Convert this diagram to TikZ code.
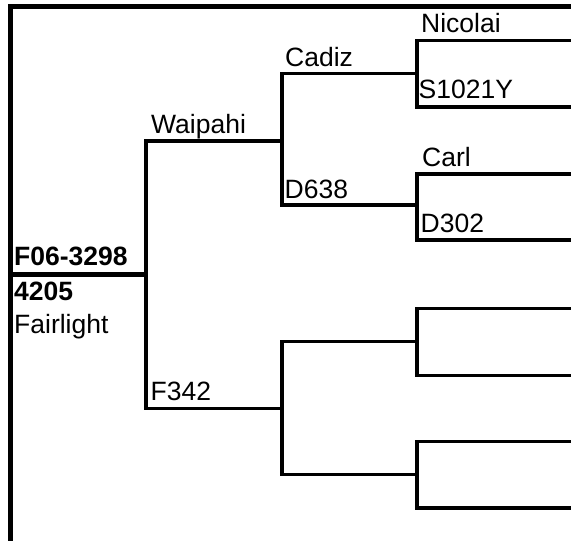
\documentclass[tikz,border=0pt]{standalone}
\usepackage{fontspec}
\setmainfont{Liberation Sans}
\begin{document}
\begin{tikzpicture}[x=1pt,y=-1pt,
  frame/.style={line width=5pt},
  mainline/.style={line width=5pt},
  branch/.style={line width=3.4pt},
  lbl/.style={anchor=base west,inner sep=0pt,font=\fontsize{26.5}{30}\selectfont},
  blbl/.style={lbl,font=\fontsize{26.5}{30}\selectfont\bfseries}]
\useasboundingbox (0,0) rectangle (571,541);
% frame corners
\coordinate (tl) at (10.5,6.5);
\coordinate (tr) at (571,6.5);
\coordinate (bl) at (10.5,541);
% generation 1
\coordinate (root) at (10.5,274);
\coordinate (rj) at (146,274);
% generation 2
\coordinate (s) at (146,141);  \coordinate (sj) at (282,141);
\coordinate (d) at (146,408.5);\coordinate (dj) at (282,408.5);
% generation 3
\coordinate (ss) at (282,73.5);  \coordinate (ssj) at (417,73.5);
\coordinate (sd) at (282,205);   \coordinate (sdj) at (417,205);
\coordinate (ds) at (282,341.5); \coordinate (dsj) at (417,341.5);
\coordinate (dd) at (282,474.5); \coordinate (ddj) at (417,474.5);
% generation 4
\coordinate (sss) at (417,40.5);  \coordinate (sssE) at (571,40.5);
\coordinate (ssd) at (417,107);   \coordinate (ssdE) at (571,107);
\coordinate (sds) at (417,174);   \coordinate (sdsE) at (571,174);
\coordinate (sdd) at (417,240);   \coordinate (sddE) at (571,240);
\coordinate (dss) at (417,308.5); \coordinate (dssE) at (571,308.5);
\coordinate (dsd) at (417,375.5); \coordinate (dsdE) at (571,375.5);
\coordinate (dds) at (417,441.5); \coordinate (ddsE) at (571,441.5);
\coordinate (ddd) at (417,508);   \coordinate (dddE) at (571,508);

\draw[frame] (bl) -- (tl) -- (tr);
\draw[mainline] (root) -- (rj);
\draw[branch] (sj) -- (s) -- (d) -- (dj);
\draw[branch] (ssj) -- (ss) -- (sd) -- (sdj);
\draw[branch] (dsj) -- (ds) -- (dd) -- (ddj);
\draw[branch] (sssE) -- (sss) -- (ssd) -- (ssdE);
\draw[branch] (sdsE) -- (sds) -- (sdd) -- (sddE);
\draw[branch] (dssE) -- (dss) -- (dsd) -- (dsdE);
\draw[branch] (ddsE) -- (dds) -- (ddd) -- (dddE);

\node[blbl] (n1) at (14,265) {F06-3298};
\node[blbl] (n2) at (14,300) {4205};
\node[lbl] (n3) at (14,333) {Fairlight};
\node[lbl] (n4) at (151,133.5) {Waipahi};
\node[lbl] (n5) at (150.5,400) {F342};
\node[lbl] (n6) at (285,66.5) {Cadiz};
\node[lbl] (n7) at (284.5,198.5) {D638};
\node[lbl] (n8) at (421,32) {Nicolai};
\node[lbl] (n9) at (418.5,98.5) {S1021Y};
\node[lbl] (n10) at (422,166.5) {Carl};
\node[lbl] (n11) at (420.5,232.5) {D302};
\end{tikzpicture}
\end{document}
